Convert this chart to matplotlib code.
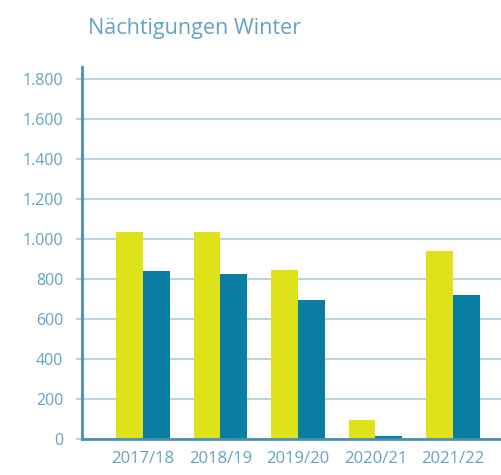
import matplotlib
matplotlib.use("Agg")
import matplotlib.pyplot as plt
from matplotlib.ticker import FuncFormatter
import numpy as np

categories = ["2017/18", "2018/19", "2019/20", "2020/21", "2021/22"]
series_a = [1035, 1035, 845, 95, 940]
series_b = [840, 825, 695, 15, 720]
yticks = [0, 200, 400, 600, 800, 1000, 1200, 1400, 1600, 1800]

YELLOW = "#dee21a"
TEAL = "#0a7ea2"
TEXT = "#64a2c2"
GRID = "#bcd3e2"
SPINE = "#4a8fb2"

plt.rcParams["font.family"] = ["Open Sans", "DejaVu Sans"]

fig = plt.figure(figsize=(5.01, 4.75), dpi=100)
ax = fig.add_axes([0.1637, 0.0758, 0.8363, 0.783])

x = np.arange(len(categories))
w = 0.345
ax.bar(x - w / 2, series_a, width=w, color=YELLOW, zorder=3)
ax.bar(x + w / 2, series_b, width=w, color=TEAL, zorder=3)

ax.set_xlim(-0.785, 4.62)
ax.set_ylim(0, 1860)
ax.set_yticks(yticks)
ax.yaxis.set_major_formatter(FuncFormatter(lambda v, p: f"{int(v):,}".replace(",", ".")))
ax.set_xticks(x)
ax.set_xticklabels(categories)

ax.grid(True, axis="y", color=GRID, linewidth=1.5, zorder=0)
ax.tick_params(axis="y", length=4.5, width=1.5, color=GRID, pad=9, labelcolor=TEXT, labelsize=11.5)
ax.tick_params(axis="x", length=0, pad=9, labelcolor=TEXT, labelsize=12)

for s in ["top", "right"]:
    ax.spines[s].set_visible(False)
for s in ["left", "bottom"]:
    ax.spines[s].set_color(SPINE)
    ax.spines[s].set_linewidth(2)
    ax.spines[s].set_zorder(4)

fig.text(0.176, 0.94, "Nächtigungen Winter", color=TEXT, fontsize=15.5, ha="left", va="center")

fig.savefig("out.png", dpi=100)
